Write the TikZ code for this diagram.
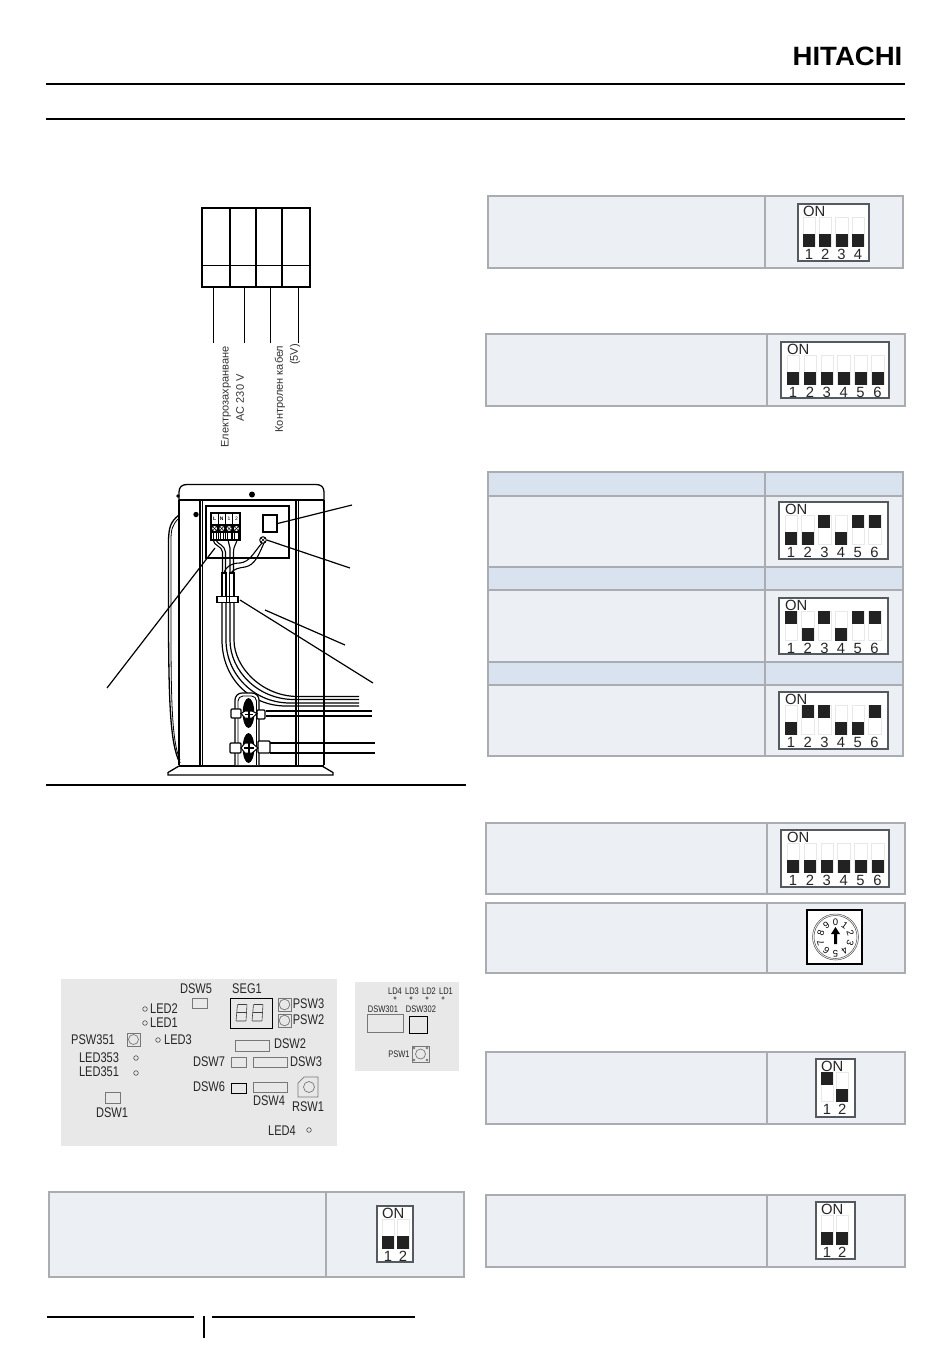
\documentclass[tikz,border=0pt]{standalone}
\usepackage{fontspec}
\usepackage{graphicx}
\usetikzlibrary{calc}
\setmainfont{Liberation Sans}
\newfontfamily\narrowf[FakeStretch=0.79]{Liberation Sans}
\definecolor{tblfill}{HTML}{ECF0F5}
\definecolor{tblhead}{HTML}{D9E3EF}
\definecolor{tblline}{HTML}{A9ADB1}
\definecolor{boardfill}{HTML}{E8E8E8}
\definecolor{dipline}{HTML}{555A60}
\definecolor{swblack}{HTML}{222222}
\definecolor{partline}{HTML}{777777}
\tikzset{
  rulethick/.style={line width=2pt,black},
  tblbox/.style={draw=tblline,line width=2.4pt,fill=tblfill},
  tblhdr/.style={draw=tblline,line width=2.4pt,fill=tblhead},
  slotbox/.style={draw=black!9,line width=0.6pt,fill=white},
  dipbox/.style={draw=dipline,line width=1.4pt,fill=white},
  diptxt/.style={inner sep=0pt,font=\fontsize{14.8}{15}\selectfont,text=black!85},
  rottxt/.style={inner sep=0pt,rotate=90,font=\fontsize{11}{12}\selectfont,text=black!80},
  unitline/.style={line width=1.3pt,black},
  unitthin/.style={line width=0.8pt,black},
  leader/.style={line width=1.2pt,black},
  pcb/.style={inner sep=0pt,font=\narrowf\fontsize{14}{14}\selectfont,text=black!85},
  pcbs/.style={inner sep=0pt,font=\narrowf\fontsize{9.5}{10}\selectfont,text=black!85},
  part/.style={draw=partline,line width=0.7pt},
  partk/.style={draw=black,line width=0.9pt},
  led/.style={draw=black!70,line width=0.6pt},
}
% box x1,y1,x2,y2, first switch left x, pitch, pattern
\newcommand\dipsw[7]{%
  \draw[dipbox] (#1,#2) rectangle (#3,#4);
  \node[diptxt,anchor=west] at (#5,#2+7.5) {ON};
  \foreach \st [count=\ii from 0] in {#7}{%
    \pgfmathsetmacro\sx{#5+\ii*#6}
    \pgfmathsetmacro\slt{#2+13.3}
    \pgfmathsetmacro\ny{#2+50.6}
    \pgfmathtruncatemacro\lab{\ii+1}
    \draw[slotbox] (\sx,\slt) rectangle (\sx+12.4,\slt+29.2);
    \ifnum\st=1
      \fill[swblack] (\sx,\slt) rectangle (\sx+12,\slt+13);
    \else
      \fill[swblack] (\sx,\slt+16.2) rectangle (\sx+12,\slt+29.2);
    \fi
    \node[diptxt] at (\sx+6,\ny) {\lab};
  }%
}
\newcommand\tblrow[5]{%
  \draw[tblbox] (#1,#2) rectangle (#3,#4);
  \draw[draw=tblline,line width=2.4pt] (#5,#2) -- (#5,#4);
}
\newcommand\tblhd[5]{%
  \draw[tblhdr] (#1,#2) rectangle (#3,#4);
  \draw[draw=tblline,line width=2.4pt] (#5,#2) -- (#5,#4);
}
\begin{document}
\begin{tikzpicture}[x=1pt,y=-1pt]
\useasboundingbox (0,0) rectangle (950,1353);
\fill[white] (0,0) rectangle (950,1353);

% header
\node[inner sep=0pt] (logo) at (847.5,56.5) {\scalebox{1.04}[1]{\fontsize{26.5}{27}\selectfont\bfseries HITACHI}};
\draw[rulethick] (46,84) -- (905,84);
\draw[rulethick] (46,119) -- (905,119);
\draw[rulethick] (46,785) -- (466,785);
\draw[rulethick] (47,1317) -- (194,1317);
\draw[rulethick] (212,1317) -- (415,1317);
\draw[rulethick] (204,1316) -- (204,1338);

% terminal diagram
\draw[line width=2pt] (202,208) rectangle (310,287);
\foreach \vx in {230,256,282} \draw[line width=2pt] (\vx,208) -- (\vx,287);
\draw[line width=0.8pt] (202,265) -- (310,265);
\foreach \vx in {213,244,270,298} \draw[line width=0.8pt] (\vx,287) -- (\vx,343);
\node[rottxt] (t1) at (226,397) {Електрозахранване};
\node[rottxt] (t2) at (240,398) {AC 230 V};
\node[rottxt] (t3) at (280,389) {Контролен кабел};
\node[rottxt] (t4) at (295,354.5) {(5V)};

% outdoor unit: left bulge
\draw[unitline] (179,515) .. controls (170,522) and (169,528) .. (168.5,540) -- (168.5,630) .. controls (169,700) and (170,745) .. (180,763);
\draw[unitthin] (179,518) .. controls (172,525) and (171,530) .. (171,540) -- (171,630) .. controls (171,700) and (172,742) .. (180,760);
% cap + body
\draw[unitline] (179,500) -- (179,492) .. controls (179,487) and (182,484.5) .. (187,484.5) -- (316,484.5) .. controls (321,484.5) and (324,487) .. (324,492) -- (324,500);
\draw[unitline] (179,500) -- (324,500);
\draw[unitline] (179,500) -- (179,765);
\draw[unitline] (324,500) -- (324,765);
\draw[unitline] (200,500) -- (200,766);
\draw[unitthin] (202,500) -- (202,766);
\draw[unitline] (296,500) -- (296,766);
\draw[unitthin] (298,500) -- (298,766);
% base
\draw[unitline] (179,766) -- (324,766);
\draw[unitline] (179,766) -- (168,772.5) -- (168,775) -- (333,775) -- (333,772.5) -- (322,766);
% screws
\fill (252,494.5) circle[radius=3pt];
\fill (178,496) circle[radius=1.8pt];
\fill (196,514.5) circle[radius=2.7pt];
% panel
\draw[unitline,fill=white] (206,506) rectangle (289,558);
\node[draw,line width=1.3pt,inner sep=0pt,minimum width=14pt,minimum height=17pt] (relay) at (270,523.5) {};
\node[draw,circle,line width=1pt,inner sep=0pt,minimum size=6.5pt] (earth) at (263,540) {};
\draw[line width=0.5pt] (261,538) -- (265,542) (265,538) -- (261,542);
% terminal block
\draw[line width=1.2pt] (211,513) rectangle (240,540);
\foreach \vx in {218.2,225.5,232.7} \draw[line width=1pt] (\vx,513) -- (\vx,540);
\fill (211,524) rectangle (240,533);
\foreach \vx [count=\ti] in {214.6,221.8,229.1,236.4}{
  \fill[white] (\vx,528.5) circle[radius=2.4pt];
  \draw[line width=0.5pt] (\vx-1.5,527) -- (\vx+1.5,530) (\vx+1.5,527) -- (\vx-1.5,530);
  \draw[line width=0.5pt] (\vx-1.7,533) -- (\vx-1.7,540) (\vx+1.7,533) -- (\vx+1.7,540);
}
\node[inner sep=0pt,font=\fontsize{5}{5}\selectfont\bfseries] (ta) at (214.6,518.5) {L};
\node[inner sep=0pt,font=\fontsize{5}{5}\selectfont\bfseries] (tb) at (221.8,518.5) {N};
\node[inner sep=0pt,font=\fontsize{5}{5}\selectfont] (tc) at (229.1,518.5) {1};
\node[inner sep=0pt,font=\fontsize{5}{5}\selectfont] (td) at (236.4,518.5) {2};
% wires
\draw[line width=1.1pt] (213,540) .. controls (214,546) and (222,546) .. (222.5,552) -- (222.5,573);
\draw[line width=1.1pt] (216,540) .. controls (217,544) and (225,545) .. (225.5,552) -- (225.5,573);
\draw[line width=1.1pt] (228,540) -- (230,548) -- (230,573);
\draw[line width=1.1pt] (237,540) .. controls (236,545) and (233.5,546) .. (233.5,552) -- (233.5,573);
\draw[line width=1.1pt] (262,543) .. controls (254,552) and (250,562) .. (240,563) .. controls (232,563) and (226,566) .. (224,573);
\draw[line width=1.1pt] (264,543) .. controls (258,556) and (255,565) .. (245,567) .. controls (238,568) and (234,569) .. (231,573);
% conduit
\draw[line width=1.2pt,fill=white] (222,573) rectangle (226,597);
\draw[line width=1.2pt,fill=white] (229.5,573) rectangle (234,597);
% pipes behind the bracket
\foreach \vx/\vy in {222/706,226/703,230/699.5,234/696.5}{
  \pgfmathsetmacro\dd{\vx-222}
  \draw[line width=1.2pt] (\vx,602) -- (\vx,640) .. controls (\vx,678-\dd*0.9) and (\vx+28,\vy) .. (\vx+64,\vy) -- (359,\vy);
}
\node[draw,fill=white,line width=1.2pt,inner sep=0pt,minimum width=21pt,minimum height=6pt] (clamp) at (227.5,599.5) {};
\draw[line width=0.8pt] (226,596.5) -- (226,602.5) (229.5,596.5) -- (229.5,602.5);
% refrigerant lines
\draw[line width=1.1pt] (266,711) -- (372,711) (266,716) -- (372,716);
\draw[line width=1.1pt] (270,743) -- (375,743) (270,753) -- (375,753);
% bracket
\draw[line width=1.2pt,fill=white,rounded corners=7pt] (235,765) -- (235,693) -- (259,693) -- (259,765);
\draw[line width=0.9pt,rounded corners=5pt] (238,765) -- (238,696) -- (256.5,696) -- (256.5,765);
% black ovals
\fill (248.5,713) ellipse[x radius=5.8pt,y radius=15pt];
\fill (248.5,748) ellipse[x radius=5.8pt,y radius=15pt];
% valves
\foreach \a/\b/\c/\d in {231/709/241/718,257/710/265/719,230/743/241/753,258/741/270/753}
  \draw[line width=1.1pt,fill=white,rounded corners=1pt] (\a,\b) rectangle (\c,\d);
\draw[line width=1pt,fill=white] (241,713.5) -- (245,711) -- (252,711) -- (257,713.5) -- (252,718) -- (245,718) -- cycle;
\draw[line width=1pt,fill=white] (241,748) -- (245,743) -- (252,743) -- (258,748) -- (252,753) -- (245,753) -- cycle;
\draw[line width=1.2pt] (245,714.5) -- (253,714.5) (249,710.5) -- (249,718.5);
\draw[line width=1.2pt] (244,748) -- (254,748) (249,743) -- (249,756);

% leaders
\coordinate (lA) at (352,505);
\coordinate (lB) at (350,568);
\coordinate (lC1) at (265,610);
\coordinate (lC2) at (345,645);
\coordinate (lD1) at (240,600);
\coordinate (lD2) at (373,683);
\coordinate (lE1) at (215,548);
\coordinate (lE2) at (107,688);
\draw[leader] (relay.east) -- (lA);
\draw[leader] (earth.east) -- (lB);
\draw[leader] (lC1) -- (lC2);
\draw[leader] (lD1) -- (lD2);
\draw[leader] (lE1) -- (lE2);

% left PCB
\fill[boardfill] (61,979) rectangle (337,1146);
\node[pcb] (a1) at (196,989) {DSW5};
\node[pcb] (a2) at (247,989) {SEG1};
\node[pcb] (a3) at (308.5,1004) {PSW3};
\node[pcb] (a4) at (308.5,1020) {PSW2};
\node[pcb] (a5) at (164,1009) {LED2};
\node[pcb] (a6) at (164,1023) {LED1};
\node[pcb] (a7) at (178,1040) {LED3};
\node[pcb] (a8) at (93,1040) {PSW351};
\node[pcb] (a9) at (99,1058) {LED353};
\node[pcb] (a10) at (99,1072) {LED351};
\node[pcb] (a11) at (112,1113) {DSW1};
\node[pcb] (a12) at (290,1044) {DSW2};
\node[pcb] (a13) at (209,1062) {DSW7};
\node[pcb] (a14) at (306,1062) {DSW3};
\node[pcb] (a15) at (209,1087) {DSW6};
\node[pcb] (a16) at (269,1101) {DSW4};
\node[pcb] (a17) at (308,1107) {RSW1};
\node[pcb] (a18) at (282,1131) {LED4};
\foreach \x/\y in {145/1009,145/1023,158/1040,136/1058,136/1073,309/1130}
  \draw[led] (\x,\y) circle[radius=2.3pt];
\draw[part] (105,1092) rectangle (120,1103);
\draw[part] (192,998) rectangle (207,1008);
\draw[partk] (230,998) rectangle (272,1028);
\foreach \ox in {236,252}{
  \draw[line width=0.6pt,black!75,rounded corners=0.5pt] (\ox+1.5,1004.5) -- (\ox+11,1004.5) -- (\ox+10,1021) -- (\ox,1021) -- cycle;
  \draw[line width=0.6pt,black!75] (\ox+0.7,1012.7) -- (\ox+10.5,1012.7);
}
\draw[part] (278,998) rectangle (291,1011);
\draw[part] (284.5,1004.5) circle[radius=5.3pt];
\draw[part] (278,1014) rectangle (291,1027);
\draw[part] (284.5,1020.5) circle[radius=5.3pt];
\draw[part] (127,1033) rectangle (140,1046);
\draw[part] (133.5,1039.5) circle[radius=5pt];
\draw[part] (235,1040) rectangle (269,1051);
\draw[part] (231,1057) rectangle (246,1067);
\draw[part] (253,1057) rectangle (287,1067);
\draw[partk] (231,1083) rectangle (246,1093);
\draw[part] (253,1082) rectangle (287,1092);
\draw[part] (304,1077) -- (318,1077) -- (318,1097) -- (298,1097) -- (298,1083) -- cycle;
\draw[part] (309,1087) circle[radius=5.5pt];

% right PCB
\fill[boardfill] (355,982) rectangle (459,1071);
\node[pcbs] (b1) at (395,991) {LD4};
\node[pcbs] (b2) at (412,991) {LD3};
\node[pcbs] (b3) at (429,991) {LD2};
\node[pcbs] (b4) at (446,991) {LD1};
\node[pcbs] (b5) at (383,1009) {DSW301};
\node[pcbs] (b6) at (421,1009) {DSW302};
\node[pcbs] (b7) at (399,1054) {PSW1};
\foreach \x in {395,411,427,443} \draw[led] (\x,998) circle[radius=1.3pt];
\draw[part] (367,1014) rectangle (403,1032);
\draw[partk] (409,1016) rectangle (427,1033);
\draw[part] (412,1046) rectangle (429,1062);
\draw[part] (420.5,1054) circle[radius=5pt];
\foreach \x in {414,427}{\foreach \yy in {1048,1060}{\draw[part] (\x,\yy) circle[radius=0.9pt];}}

% tables, right column
\tblrow{488}{196}{903}{268}{765}
\dipsw{798}{204}{869}{261}{803}{16.3}{0,0,0,0}
\tblrow{486}{334}{905}{406}{767}
\dipsw{781}{342}{889}{398}{787}{16.9}{0,0,0,0,0,0}

\tblhd{488}{472}{903}{496}{765}
\tblrow{488}{496}{903}{567}{765}
\tblhd{488}{567}{903}{590}{765}
\tblrow{488}{590}{903}{662}{765}
\tblhd{488}{662}{903}{685}{765}
\tblrow{488}{685}{903}{756}{765}
\dipsw{779}{502}{888}{559}{785}{16.7}{0,0,1,0,1,1}
\dipsw{779}{598}{888}{654}{785}{16.7}{1,0,1,0,1,1}
\dipsw{779}{692}{888}{749}{785}{16.7}{0,1,1,0,0,1}

\tblrow{486}{823}{905}{894}{767}
\dipsw{781}{830}{889}{887}{787}{16.9}{0,0,0,0,0,0}
\tblrow{486}{903}{905}{973}{767}
% rotary switch
\node[draw=black,line width=2pt,fill=white,inner sep=0pt,minimum width=55pt,minimum height=54pt] (rsw) at (834.5,937) {};
\draw[line width=0.5pt,black!70] (835.5,937) circle[radius=23pt];
\draw[line width=0.5pt,black!70] (835.5,937) circle[radius=21.5pt];
\foreach \dg in {0,...,9}{
  \pgfmathsetmacro\ang{90-36*\dg}
  \pgfmathsetmacro\rot{-36*\dg}
  \node[inner sep=0pt,rotate=\rot,font=\fontsize{9.5}{10}\selectfont] at ($(835.5,938)+(\ang:15.5pt)$) {\dg};
}
\fill (834,944) -- (834,934) -- (831,934) -- (835.5,927) -- (840,934) -- (837,934) -- (837,944) -- cycle;

\tblrow{486}{1052}{905}{1124}{767}
\dipsw{816}{1059}{855}{1117}{821}{15.3}{1,0}
\tblrow{486}{1195}{905}{1267}{767}
\dipsw{816}{1202}{855}{1259}{821}{15.3}{0,0}
\tblrow{49}{1192}{464}{1277}{326}
\dipsw{377}{1206}{413}{1262}{382}{15}{0,0}
\end{tikzpicture}
\end{document}
